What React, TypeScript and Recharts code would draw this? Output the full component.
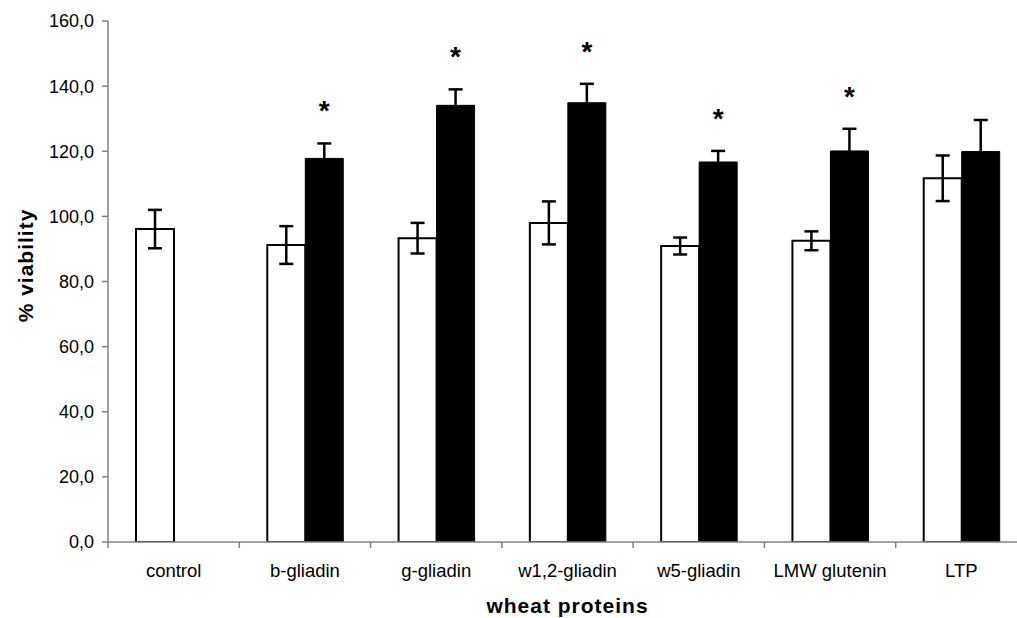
import { BarChart, Bar, XAxis, YAxis, ErrorBar, LabelList, Label } from 'recharts'

const categories = ['control', 'b-gliadin', 'g-gliadin', 'w1,2-gliadin', 'w5-gliadin', 'LMW glutenin', 'LTP']
const whiteValues = [96.1, 91.2, 93.3, 98.0, 90.9, 92.5, 111.7]
const whiteErrors = [5.9, 5.8, 4.7, 6.6, 2.6, 2.9, 7.0]
const blackValues: (number | null)[] = [null, 117.8, 134.1, 134.9, 116.7, 120.1, 119.9]
const blackErrors: (number | null)[] = [null, 4.6, 4.9, 5.8, 3.4, 6.8, 9.7]
const significant = [false, true, true, true, true, true, false]
const yTicks = [0, 20, 40, 60, 80, 100, 120, 140, 160]

const data = categories.map((name, i) => ({
  name,
  white: whiteValues[i],
  whiteErr: whiteErrors[i],
  black: blackValues[i],
  blackErr: blackErrors[i],
}))

const FONT = '"Liberation Sans", Arial, sans-serif'
const AXIS = '#808080'

function CategoryTick(props: any) {
  const { x, y, payload, index } = props
  const half = payload?.offset ?? 65.6
  return (
    <g>
      <line x1={x - half} x2={x - half} y1={y - 6} y2={y} stroke={AXIS} strokeWidth={1.5} />
      {index === categories.length - 1 && (
        <line x1={x + half} x2={x + half} y1={y - 6} y2={y} stroke={AXIS} strokeWidth={1.5} />
      )}
      <text x={x} y={y + 29} textAnchor="middle" fontSize={18.5} fontFamily={FONT} fill="#000">
        {payload.value}
      </text>
    </g>
  )
}

function Star(props: any) {
  const vb = props.viewBox ?? props
  const i = categories.indexOf(props.value)
  if (i < 0 || !significant[i]) return null
  const v = blackValues[i] as number
  const err = blackErrors[i] as number
  const pxPerUnit = vb.height / v
  const cy = vb.y - (err + 12) * pxPerUnit
  return (
    <text
      x={vb.x + vb.width / 2}
      y={cy + 16}
      textAnchor="middle"
      fontSize={28}
      fontWeight="bold"
      fontFamily={FONT}
      fill="#000"
    >
      *
    </text>
  )
}

function YTitle(props: any) {
  const vb = props.viewBox
  const cx = vb.x + 33
  const cy = vb.y + vb.height / 2 - 16
  return (
    <text
      x={cx}
      y={cy}
      transform={`rotate(-90 ${cx} ${cy})`}
      textAnchor="middle"
      fontSize={21}
      fontWeight="bold"
      letterSpacing={1}
      fontFamily={FONT}
      fill="#000"
    >
      % viability
    </text>
  )
}

function XTitle(props: any) {
  const vb = props.viewBox
  return (
    <text
      x={vb.x + vb.width / 2}
      y={vb.y + 71}
      textAnchor="middle"
      fontSize={21}
      fontWeight="bold"
      letterSpacing={1}
      fontFamily={FONT}
      fill="#000"
    >
      wheat proteins
    </text>
  )
}

export default function App() {
  return (
    <div style={{ position: 'absolute', left: 0, top: 0, width: 1017, height: 618, overflow: 'hidden', background: '#fff' }}>
      <BarChart
        width={1040}
        height={618}
        data={data}
        margin={{ top: 21, right: 13, bottom: 0, left: 0 }}
        barGap={0}
        barSize={38}
      >
        <XAxis
          dataKey="name"
          height={76}
          stroke={AXIS}
          strokeWidth={1.5}
          tickLine={false}
          tickSize={6}
          tickMargin={0}
          tick={<CategoryTick />}
          interval={0}
        >
          <Label content={<XTitle />} />
        </XAxis>
        <YAxis
          width={108}
          domain={[0, 160]}
          ticks={yTicks}
          allowDataOverflow
          stroke={AXIS}
          strokeWidth={1.5}
          tickSize={6}
          tickMargin={8}
          tickFormatter={(v: number) => v.toFixed(1).replace('.', ',')}
          tick={{ fontSize: 18, fontFamily: FONT, fill: '#000' }}
        >
          <Label content={<YTitle />} />
        </YAxis>
        <Bar dataKey="white" fill="#fff" stroke="#000" strokeWidth={2} isAnimationActive={false}>
          <ErrorBar dataKey="whiteErr" width={7} stroke="#000" strokeWidth={2.5} isAnimationActive={false} />
        </Bar>
        <Bar dataKey="black" fill="#000" stroke="#000" strokeWidth={1} isAnimationActive={false}>
          <ErrorBar dataKey="blackErr" width={7} stroke="#000" strokeWidth={2.5} isAnimationActive={false} />
          <LabelList dataKey="name" content={<Star />} />
        </Bar>
      </BarChart>
    </div>
  )
}
